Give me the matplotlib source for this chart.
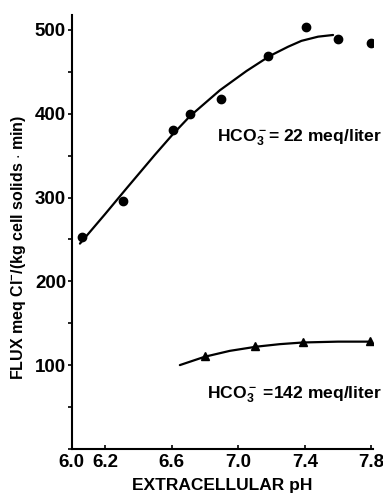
import matplotlib
matplotlib.use('Agg')
import matplotlib.pyplot as plt
from matplotlib.ticker import MultipleLocator

plt.rcParams['font.family'] = ['Liberation Sans', 'DejaVu Sans']
plt.rcParams['font.weight'] = 'bold'
plt.rcParams['mathtext.fontset'] = 'custom'
plt.rcParams['mathtext.rm'] = 'Liberation Sans:bold'
plt.rcParams['mathtext.it'] = 'Liberation Sans:bold'
plt.rcParams['mathtext.bf'] = 'Liberation Sans:bold'

# HCO3- = 22 meq/liter (circles) and the drawn curve
ph_22 = [6.06, 6.31, 6.61, 6.71, 6.90, 7.18, 7.41, 7.60, 7.80]
flux_22 = [253, 296, 381, 400, 418, 469, 504, 489, 485]
curve_ph_22 = [6.05, 6.20, 6.33, 6.50, 6.61, 6.71, 6.89, 7.05, 7.19, 7.30, 7.38, 7.48, 7.57]
curve_22 = [245, 280, 311, 351, 376, 397, 428, 451, 469, 480, 487, 492, 494]

# HCO3- = 142 meq/liter (triangles) and the drawn curve
ph_142 = [6.80, 7.10, 7.39, 7.79]
flux_142 = [111, 123, 127, 129]
curve_ph_142 = [6.65, 6.80, 6.95, 7.11, 7.25, 7.39, 7.60, 7.78]
curve_142 = [100, 110, 117, 122, 125, 127, 128, 128]

xticks = [6.0, 6.2, 6.6, 7.0, 7.4, 7.8]
xticklabels = ['6.0', '6.2', '6.6', '7.0', '7.4', '7.8']
yticks = [100, 200, 300, 400, 500]

fig = plt.figure(figsize=(3.83, 4.96), dpi=100)
ax = fig.add_axes([0.187, 0.095, 0.787, 0.875])

ax.plot(curve_ph_22, curve_22, color='black', lw=1.6, solid_capstyle='round')
ax.plot(ph_22, flux_22, 'o', color='black', ms=6)
ax.plot(curve_ph_142, curve_142, color='black', lw=1.6, solid_capstyle='round')
ax.plot(ph_142, flux_142, '^', color='black', ms=6)

ax.set_xlim(6.0, 7.81)
ax.set_ylim(0, 518)

ax.set_xticks(xticks)
ax.set_xticklabels(xticklabels)
ax.set_yticks(yticks)
ax.yaxis.set_minor_locator(MultipleLocator(50))

ax.spines['top'].set_visible(False)
ax.spines['right'].set_visible(False)
ax.spines['left'].set_linewidth(1.5)
ax.spines['bottom'].set_linewidth(1.5)

ax.tick_params(axis='x', direction='in', length=3, width=1.2, pad=4, labelsize=13.5)
ax.tick_params(axis='y', which='both', direction='out', length=3, width=1.2, pad=1, labelsize=13.5)

ax.set_xlabel('EXTRACELLULAR pH', fontsize=12.5, fontweight='bold', labelpad=5)
fig.text(0.047, 0.502, 'FLUX meq Cl$^{-}$/(kg cell solids $\\cdot$ min)', fontsize=11.5,
         fontweight='bold', rotation=90, ha='center', va='center')

ax.text(6.87, 371, 'HCO$_3^-$= 22 meq/liter', fontsize=12.6, fontweight='bold', va='center')
ax.text(6.81, 65, 'HCO$_3^-$ =142 meq/liter', fontsize=12.6, fontweight='bold', va='center')

fig.savefig('out.png', dpi=100)
